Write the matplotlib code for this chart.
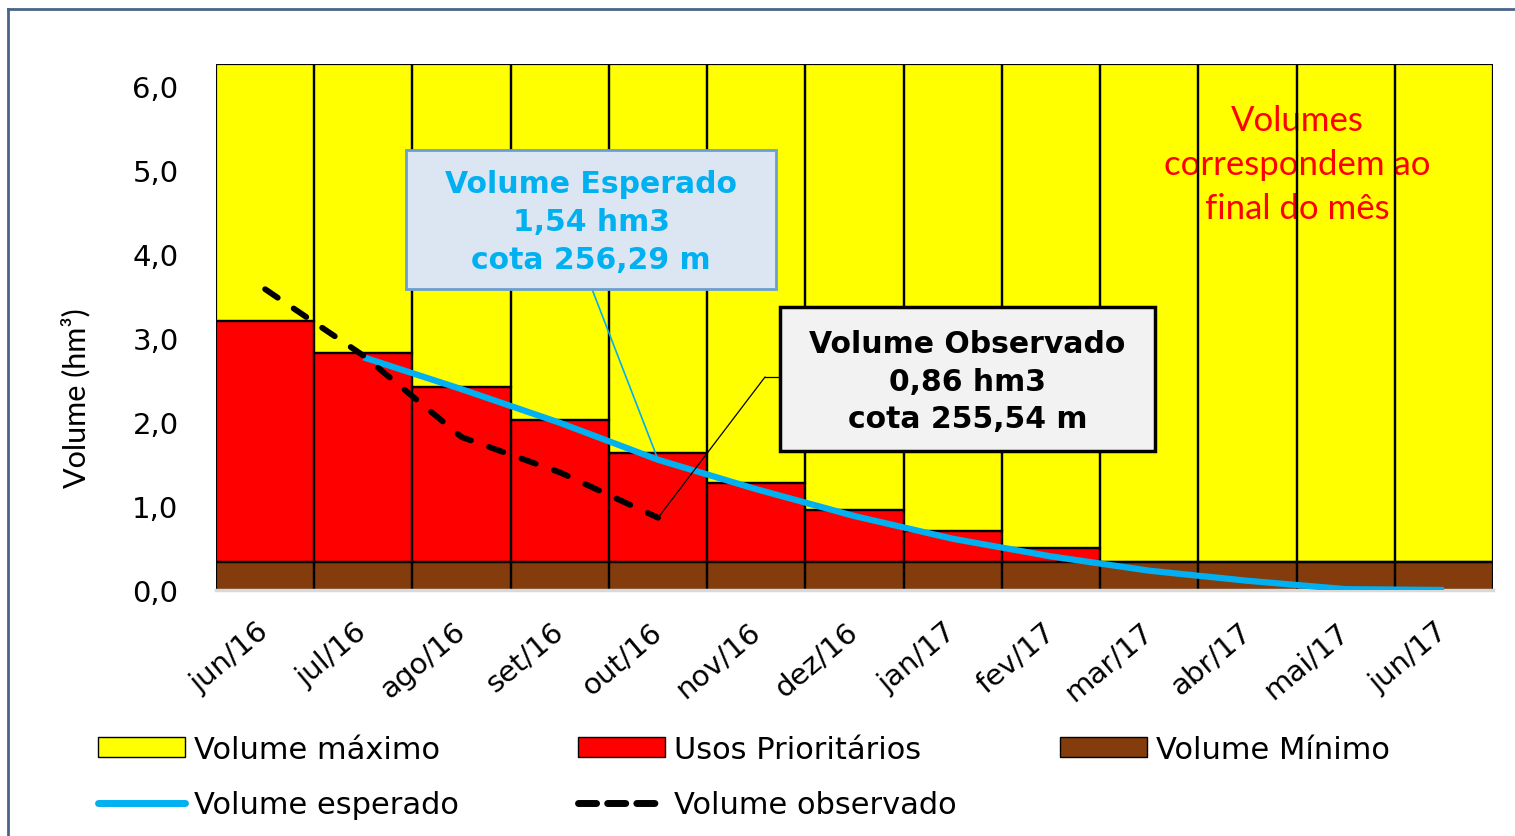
import numpy as np
import matplotlib
matplotlib.use("Agg")
import matplotlib.pyplot as plt
from matplotlib.patches import Patch, Rectangle
from matplotlib.lines import Line2D
from matplotlib.ticker import MultipleLocator, FuncFormatter

# --- Daten ---------------------------------------------------------------
meses = ["jun/16", "jul/16", "ago/16", "set/16", "out/16", "nov/16", "dez/16",
         "jan/17", "fev/17", "mar/17", "abr/17", "mai/17", "jun/17"]

vol_minimo = [0.33, 0.33, 0.33, 0.33, 0.33, 0.33, 0.33,
              0.33, 0.33, 0.33, 0.33, 0.33, 0.33]
usos_prioritarios = [2.87, 2.49, 2.09, 1.69, 1.30, 0.94, 0.62,
                     0.37, 0.17, 0.0, 0.0, 0.0, 0.0]
vol_maximo = [3.06, 3.44, 3.84, 4.24, 4.63, 4.99, 5.31,
              5.56, 5.76, 5.93, 5.93, 5.93, 5.93]

vol_esperado = [np.nan, 2.77, 2.39, 1.99, 1.55, 1.20, 0.88,
                0.61, 0.40, 0.23, 0.11, 0.01, 0.0]
vol_observado = [3.58, 2.79, 1.82, 1.40, 0.86, np.nan, np.nan,
                 np.nan, np.nan, np.nan, np.nan, np.nan, np.nan]

YELLOW = "#FFFF00"
RED = "#FF0000"
BROWN = "#843C0C"
BLUE = "#00B0F0"

x = np.arange(len(meses))
base2 = np.array(vol_minimo) + np.array(usos_prioritarios)

fig = plt.figure(figsize=(15.15, 8.37), dpi=100)
ax = fig.add_axes([0.1426, 0.2939, 0.8429, 0.6284])

# Balken: erst Flächen, dann Ränder (Text liegt dazwischen)
for edge in (False, True):
    kw = dict(width=1.0, align="center")
    if edge:
        kw.update(fill=False, edgecolor="black", linewidth=1.6, zorder=2)
    else:
        kw.update(edgecolor="none", zorder=1)
    ax.bar(x, vol_minimo, color=None if edge else BROWN, **kw)
    ax.bar(x, usos_prioritarios, bottom=vol_minimo, color=None if edge else RED, **kw)
    ax.bar(x, vol_maximo, bottom=base2, color=None if edge else YELLOW, **kw)

ax.plot(x, vol_esperado, color=BLUE, linewidth=4.5, solid_capstyle="butt", zorder=3)
ax.plot(x, vol_observado, color="black", linewidth=4.2,
        linestyle=(0, (2.6, 3.3)), dash_capstyle="round", zorder=4)

ax.set_xlim(-0.5, len(meses) - 0.5)
ax.set_ylim(0, 6.26)
ax.yaxis.set_major_locator(MultipleLocator(1))
ax.yaxis.set_major_formatter(FuncFormatter(lambda v, p: f"{v:.1f}".replace(".", ",")))
ax.set_xticks(x)
ax.set_xticklabels(meses, rotation=40, ha="right", va="center",
                   rotation_mode="anchor", fontsize=21)
ax.tick_params(axis="x", length=0, pad=27)
ax.tick_params(axis="y", length=0, pad=27, labelsize=21)
for s in ("left", "top", "right"):
    ax.spines[s].set_visible(False)
ax.spines["bottom"].set_color("#D9D9D9")
ax.spines["bottom"].set_linewidth(2.5)

ax.set_ylabel("Volume (hm³)", family="Lato", fontsize=22)
ax.yaxis.set_label_coords(-0.098, 0.367)

# Hinweistext
ax.text(0.847, 0.81, "Volumes\ncorrespondem ao\nfinal do mês",
        transform=ax.transAxes, ha="center", va="center", color=RED,
        family="Lato", fontsize=25, linespacing=1.45, zorder=1.5)

# Kasten: Volume Esperado
ax.add_patch(Rectangle((0.1488, 0.5722), 0.2897, 0.2643, transform=ax.transAxes,
                       facecolor="#DCE6F2", edgecolor="#6A9FD4", linewidth=2, zorder=6))
ax.text(0.2937, 0.701, "Volume Esperado\n1,54 hm3\ncota 256,29 m",
        transform=ax.transAxes, ha="center", va="center", color=BLUE,
        fontsize=21.5, fontweight="bold", linespacing=1.38, zorder=7)
ax.annotate("", xy=(4, vol_esperado[4]), xycoords="data",
            xytext=(0.2944, 0.5722), textcoords="axes fraction",
            arrowprops=dict(arrowstyle="-", color=BLUE, linewidth=1.2,
                            shrinkA=0, shrinkB=0), zorder=5)

# Kasten: Volume Observado
ax.add_patch(Rectangle((0.4417, 0.2643), 0.2936, 0.2737, transform=ax.transAxes,
                       facecolor="#F2F2F2", edgecolor="black", linewidth=2.5, zorder=6))
ax.text(0.5885, 0.397, "Volume Observado\n0,86 hm3\ncota 255,54 m",
        transform=ax.transAxes, ha="center", va="center", color="black",
        fontsize=21.5, fontweight="bold", linespacing=1.36, zorder=7)
ax.annotate("", xy=(4, vol_observado[4]), xycoords="data",
            xytext=(0.4299, 0.405), textcoords="axes fraction",
            arrowprops=dict(arrowstyle="-", color="black", linewidth=0.9,
                            shrinkA=0, shrinkB=0), zorder=5)
ax.plot([0.4299, 0.4417], [0.405, 0.405], transform=ax.transAxes,
        color="black", linewidth=0.9, zorder=5)

# Legende (drei Spalten)
leg_kw = dict(frameon=False, fontsize=22, loc="upper left", borderpad=0,
              borderaxespad=0, handlelength=2.85, handleheight=0.6,
              handletextpad=0.3, labelspacing=0.86)
col1 = [Patch(facecolor=YELLOW, edgecolor="black"),
        Line2D([], [], color=BLUE, linewidth=5, solid_capstyle="round")]
col2 = [Patch(facecolor=RED, edgecolor="black"),
        Line2D([], [], color="black", linewidth=5, linestyle=(0, (2.6, 1.6)),
               dash_capstyle="round")]
col3 = [Patch(facecolor=BROWN, edgecolor="black")]
fig.legend(col1, ["Volume máximo", "Volume esperado"],
           bbox_to_anchor=(0.0647, 0.121), **leg_kw)
fig.legend(col2, ["Usos Prioritários", "Volume observado"],
           bbox_to_anchor=(0.3815, 0.121), **leg_kw)
fig.legend(col3, ["Volume Mínimo"],
           bbox_to_anchor=(0.6997, 0.121), **leg_kw)

# Rahmen
fig.add_artist(Line2D([0.0053, 0.0053], [0.0, 0.988], transform=fig.transFigure,
                      color="#4A6386", linewidth=2))
fig.add_artist(Line2D([0.0053, 1.0], [0.988, 0.988], transform=fig.transFigure,
                      color="#4A6386", linewidth=2))

fig.savefig("out.png", dpi=100)
